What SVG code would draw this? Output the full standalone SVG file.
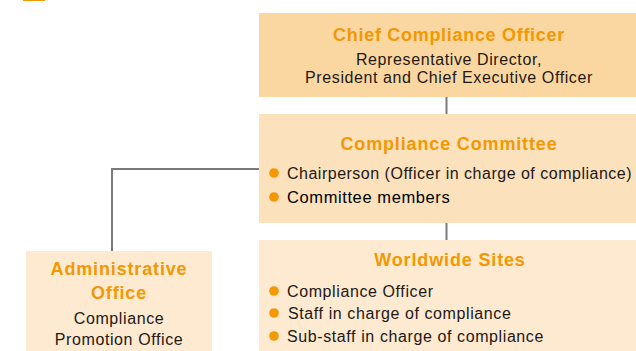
<svg xmlns="http://www.w3.org/2000/svg" width="636" height="351" viewBox="0 0 636 351">
<style>
.t{font-family:"Liberation Sans",Arial,sans-serif;font-weight:bold;font-size:18px;fill:#F39800;text-anchor:middle;letter-spacing:0.85px}
.b{font-family:"Liberation Sans",Arial,sans-serif;font-size:16px;fill:#231815;letter-spacing:0.6px}
.c{text-anchor:middle}
.dot{fill:#F39800}
.ln{fill:none;stroke:#7a7a7a;stroke-width:2}
</style>
<rect x="23" y="-10" width="22" height="11" fill="#F39800"/>
<g id="connectors">
<line class="ln" x1="446.5" y1="97" x2="446.5" y2="114"/>
<line class="ln" x1="446.5" y1="223" x2="446.5" y2="240"/>
<polyline class="ln" points="112,251 112,169 259,169"/>
</g>
<g id="chief">
<rect x="259" y="13" width="377" height="84" fill="#FAD7A0"/>
<text class="t" x="449" y="41" style="letter-spacing:0.7px">Chief Compliance Officer</text>
<text class="b c" x="449" y="65">Representative Director,</text>
<text class="b c" x="449" y="83">President and Chief Executive Officer</text>
</g>
<g id="committee">
<rect x="259" y="114" width="377" height="109" fill="#FBE1BC"/>
<text class="t" x="449" y="150">Compliance Committee</text>
<circle class="dot" cx="274" cy="173" r="4.8"/>
<text class="b" x="287" y="179" style="letter-spacing:0.5px">Chairperson (Officer in charge of compliance)</text>
<circle class="dot" cx="274" cy="197" r="4.8"/>
<text class="b" x="287" y="203" style="fill:#000;font-size:16.5px">Committee members</text>
</g>
<g id="worldwide">
<rect x="259" y="240" width="377" height="111" fill="#FDEAD1"/>
<text class="t" x="450" y="266">Worldwide Sites</text>
<circle class="dot" cx="274" cy="291" r="4.8"/>
<text class="b" x="287" y="297">Compliance Officer</text>
<circle class="dot" cx="274" cy="313" r="4.8"/>
<text class="b" x="288" y="319">Staff in charge of compliance</text>
<circle class="dot" cx="274" cy="336" r="4.8"/>
<text class="b" x="287" y="342">Sub-staff in charge of compliance</text>
</g>
<g id="admin">
<rect x="26" y="251" width="186" height="100" fill="#FDEAD1"/>
<text class="t" x="119" y="275">Administrative</text>
<text class="t" x="119" y="299">Office</text>
<text class="b c" x="119" y="324">Compliance</text>
<text class="b c" x="119" y="345">Promotion Office</text>
</g>
</svg>
